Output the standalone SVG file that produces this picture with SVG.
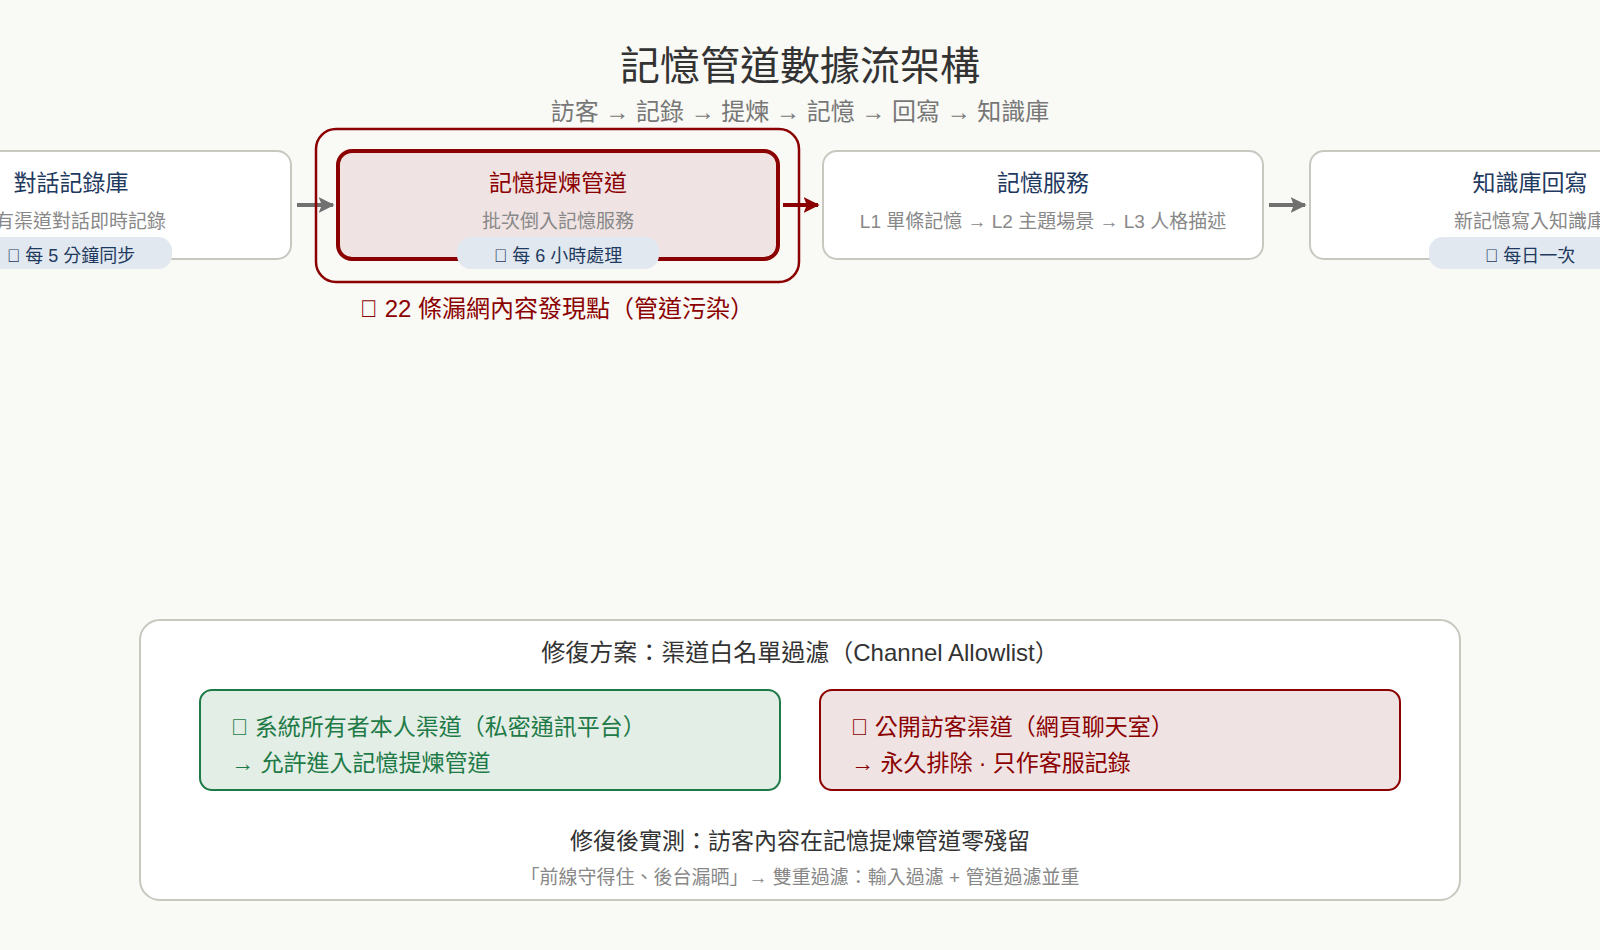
<svg xmlns="http://www.w3.org/2000/svg" width="1600" height="950" viewBox="0 0 1600 950">
<style>
text{font-family:"Liberation Sans","Noto Sans CJK TC",sans-serif}
.title{font-size:40px;fill:#333;text-anchor:middle}
.sub{font-size:24px;fill:#777;text-anchor:middle}
.node{fill:#fff;stroke:#c8c8c0;stroke-width:2}
.ntitle{font-size:23px;fill:#1f3a5f;text-anchor:middle}
.ndesc{font-size:19px;fill:#888;text-anchor:middle}
.pill{fill:#e1e8f0}
.ptext{font-size:18px;fill:#1f3a5f;text-anchor:middle}
.gl{stroke:#707070;stroke-width:4;fill:none}
.rl{stroke:#8b0000;stroke-width:4;fill:none}
.h2{font-size:24px;fill:#333;text-anchor:middle}
.h3{font-size:23px;fill:#333;text-anchor:middle}
.note{font-size:19px;fill:#888;text-anchor:middle}
.bt{font-size:23px}
.tf{font-family:"Liberation Sans Narrow","Liberation Sans",sans-serif}
</style>
<defs>
<marker id="ag" markerUnits="userSpaceOnUse" markerWidth="16" markerHeight="16" viewBox="0 0 10 10" refX="9" refY="5" orient="auto"><path d="M0,0 L10,5 L0,10 L2,5 z" fill="#707070"/></marker>
<marker id="ar" markerUnits="userSpaceOnUse" markerWidth="16" markerHeight="16" viewBox="0 0 10 10" refX="9" refY="5" orient="auto"><path d="M0,0 L10,5 L0,10 L2,5 z" fill="#8b0000"/></marker>
</defs>
<rect width="1600" height="950" fill="#f9f9f5"/>
<g id="header">
<text class="title" x="800" y="80">記憶管道數據流架構</text>
<text class="sub" x="800" y="120">訪客 → 記錄 → 提煉 → 記憶 → 回寫 → 知識庫</text>
</g>
<g id="connectors">
<line class="gl" x1="297" y1="205" x2="333" y2="205" marker-end="url(#ag)"/>
<line class="rl" x1="783" y1="205" x2="818" y2="205" marker-end="url(#ar)"/>
<line class="gl" x1="1269" y1="205" x2="1305" y2="205" marker-end="url(#ag)"/>
</g>
<g id="node-log">
<rect class="node" x="-149" y="151" width="440" height="108" rx="14"/>
<text class="ntitle" x="71" y="191">對話記錄庫</text>
<text class="ndesc" x="71" y="228">所有渠道對話即時記錄</text>
<rect class="pill" x="-30" y="237" width="202" height="32" rx="14"/>
<text class="ptext" x="71" y="262"><tspan class="tf">&#xE000;</tspan> 每 5 分鐘同步</text>
</g>
<g id="node-pipeline">
<rect x="316" y="129" width="483" height="153" rx="20" fill="none" stroke="#8b0000" stroke-width="2.5"/>
<rect x="338" y="151" width="440" height="108" rx="14" fill="#efe3e3" stroke="#8b0000" stroke-width="4"/>
<text class="ntitle" x="558" y="191" style="fill:#8b0000">記憶提煉管道</text>
<text class="ndesc" x="558" y="228">批次倒入記憶服務</text>
<rect class="pill" x="457" y="237" width="202" height="32" rx="14"/>
<text class="ptext" x="558" y="262"><tspan class="tf">&#xE000;</tspan> 每 6 小時處理</text>
<text x="557" y="317" style="font-size:24px;fill:#8b0000;text-anchor:middle"><tspan class="tf">&#xE000;</tspan> 22 條漏網內容發現點（管道污染）</text>
</g>
<g id="node-memory">
<rect class="node" x="823" y="151" width="440" height="108" rx="14"/>
<text class="ntitle" x="1043" y="191">記憶服務</text>
<text class="ndesc" x="1043" y="228">L1 單條記憶 → L2 主題場景 → L3 人格描述</text>
</g>
<g id="node-kb">
<rect class="node" x="1310" y="151" width="440" height="108" rx="14"/>
<text class="ntitle" x="1530" y="191">知識庫回寫</text>
<text class="ndesc" x="1530" y="228">新記憶寫入知識庫</text>
<rect class="pill" x="1429" y="237" width="202" height="32" rx="14"/>
<text class="ptext" x="1530" y="262"><tspan class="tf">&#xE000;</tspan> 每日一次</text>
</g>
<g id="fix-panel">
<rect x="140" y="620" width="1320" height="280" rx="20" fill="#fff" stroke="#c8c8c0" stroke-width="2"/>
<text class="h2" x="800" y="661">修復方案：渠道白名單過濾（Channel Allowlist）</text>
<g id="allow">
<rect x="200" y="690" width="580" height="100" rx="12" fill="#e3eee7" stroke="#1e7a46" stroke-width="2"/>
<text class="bt" x="231" y="735" fill="#1e7a46"><tspan class="tf">&#xE000;</tspan> 系統所有者本人渠道（私密通訊平台）</text>
<text class="bt" x="231" y="771" fill="#1e7a46">→ 允許進入記憶提煉管道</text>
</g>
<g id="deny">
<rect x="820" y="690" width="580" height="100" rx="12" fill="#efe3e3" stroke="#8b0000" stroke-width="2"/>
<text class="bt" x="851" y="735" fill="#8b0000"><tspan class="tf">&#xE000;</tspan> 公開訪客渠道（網頁聊天室）</text>
<text class="bt" x="851" y="771" fill="#8b0000">→ 永久排除 · 只作客服記錄</text>
</g>
<text class="h3" x="800" y="849">修復後實測：訪客內容在記憶提煉管道零殘留</text>
<text class="note" x="800" y="884">「前線守得住、後台漏晒」→ 雙重過濾：輸入過濾 + 管道過濾並重</text>
</g>
</svg>
